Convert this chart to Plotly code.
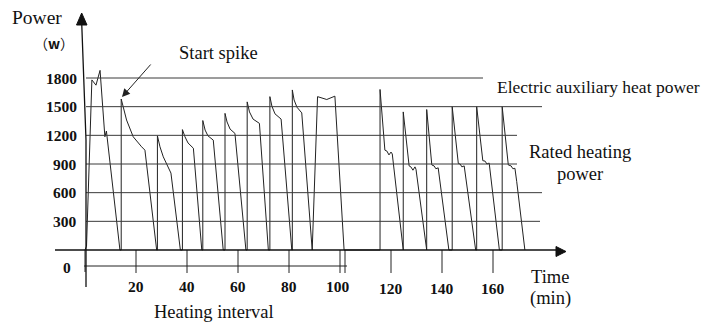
import plotly.graph_objects as go

# ---------------- data ----------------
time_min = [0, 0.6, 2.7, 4.3, 5.9, 7.8, 8.4, 13.7,
            14.2, 14.2, 16.3, 18.9, 22.2, 23.5, 28.1,
            28.4, 28.4, 29.4, 30.7, 32.7, 33.7, 37.4,
            38.2, 38.2, 39.2, 40.4, 42.5, 45.8,
            46.2, 46.2, 47.1, 48.2, 50.3, 54.2,
            54.9, 54.9, 55.7, 56.9, 58.8, 63.1,
            63.6, 63.6, 64.5, 65.9, 68.4, 71.9,
            72.5, 72.5, 73.3, 74.5, 76.9, 81.1,
            81.3, 81.3, 82.0, 83.1, 85.0, 89.1,
            91.2, 94.8, 98.0, 101.6,
            115.7, 115.7, 117.6, 118.4, 119.2, 120.0, 120.5, 124.8,
            124.8, 127.1, 127.8, 128.6, 129.4, 129.8, 134.0,
            134.0, 136.0, 136.9, 137.6, 138.5, 142.7,
            144.0, 144.0, 146.4, 147.1, 147.8, 148.7, 153.2,
            153.6, 153.6, 156.0, 156.9, 157.6, 158.5, 162.5,
            163.6, 163.6, 166.0, 167.1, 167.8, 168.6, 169.3, 172.5]
power_w = [0, 40, 1780, 1725, 1880, 1185, 1245, 0,
           0, 1580, 1360, 1185, 1080, 1045, 0,
           0, 1195, 1080, 975, 855, 805, 0,
           0, 1260, 1185, 1120, 1065, 0,
           0, 1355, 1255, 1195, 1150, 0,
           0, 1430, 1340, 1265, 1220, 0,
           0, 1550, 1445, 1370, 1325, 0,
           0, 1605, 1505, 1425, 1370, 0,
           0, 1675, 1570, 1495, 1435, 0,
           1605, 1575, 1610, 0,
           0, 1680, 1045, 1035, 995, 1025, 1005, 0,
           1445, 880, 870, 835, 870, 845, 0,
           1470, 890, 880, 850, 860, 0,
           0, 1500, 905, 900, 870, 880, 0,
           0, 1500, 935, 930, 900, 910, 0,
           0, 1500, 890, 880, 850, 855, 715, 0]

y_ticks = [300, 600, 900, 1200, 1500, 1800]
x_ticks = [20, 40, 60, 80, 100, 120, 140, 160]

# ------------- pixel helpers (layout only) -------------
W, H = 704, 325
def X(px):
    return (px - 85) / 2.55
def Y(py):
    return (250 - py) * 1800 / 172

SERIF = "Liberation Serif, Times New Roman, serif"
fig = go.Figure()
fig.add_trace(go.Scatter(x=time_min, y=power_w, mode="lines",
                         line=dict(color="#222222", width=1), hoverinfo="skip"))

shapes = []
grid_end = {1800: 483, 1500: 542, 1200: 517, 900: 517, 600: 542, 300: 540}
for v in y_ticks:
    shapes.append(dict(type="line", x0=X(86), x1=X(grid_end[v]), y0=v, y1=v,
                       line=dict(color="#3a3a3a", width=1)))
# lower "heating interval" line
shapes.append(dict(type="line", x0=X(84), x1=X(347), y0=Y(266), y1=Y(266),
                   line=dict(color="#222", width=1)))
# ticks
for t in x_ticks:
    shapes.append(dict(type="line", x0=t, x1=t, y0=0, y1=Y(273),
                       line=dict(color="#222", width=1)))
shapes.append(dict(type="line", x0=X(345), x1=X(345), y0=0, y1=Y(273),
                   line=dict(color="#222", width=1)))
shapes.append(dict(type="line", x0=X(85), x1=X(85), y0=0, y1=Y(272),
                   line=dict(color="#222", width=1)))
# y axis
shapes.append(dict(type="path",
                   path=f"M {X(81.6)},{Y(20)} L {X(86)},{Y(140)} L {X(86)},{Y(287)}",
                   line=dict(color="#111", width=1.3)))
shapes.append(dict(type="path",
                   path=f"M {X(81.7)},{Y(13)} L {X(76.5)},{Y(25)} L {X(87)},{Y(25)} Z",
                   fillcolor="#111", line=dict(color="#111", width=1)))
# x axis
shapes.append(dict(type="line", x0=X(55), x1=X(558), y0=0, y1=0,
                   line=dict(color="#111", width=1.3)))
shapes.append(dict(type="path",
                   path=f"M {X(566)},{Y(251.5)} L {X(556)},{Y(246.5)} L {X(556)},{Y(256.5)} Z",
                   fillcolor="#111", line=dict(color="#111", width=1)))

ann = []
def txt(s, px, py, size=18.5, bold=False, xa="center", ya="middle", family=SERIF):
    ann.append(dict(text=f"<b>{s}</b>" if bold else s, x=X(px), y=Y(py),
                    xref="x", yref="y", showarrow=False, xanchor=xa, yanchor=ya,
                    font=dict(family=family, size=size, color="#111")))

for v in y_ticks:
    ann.append(dict(text=f"<b>{v}</b>", x=X(78.5), y=v, xref="x", yref="y",
                    showarrow=False, xanchor="right", yanchor="middle",
                    font=dict(family=SERIF, size=15.5, color="#111")))
txt("0", 67, 267, size=15.5, bold=True)
for t in x_ticks:
    ann.append(dict(text=f"<b>{t}</b>", x=t - (0.8 if t == 100 else 0),
                    y=Y(286 if t <= 100 else 288), xref="x", yref="y",
                    showarrow=False, xanchor="center", yanchor="middle",
                    font=dict(family=SERIF, size=15.5, color="#111")))

txt("Power", 37, 17, size=19.5)
txt("（<b>w</b>）", 54, 43, size=14, family="Noto Sans CJK SC, Liberation Serif")
txt("Start spike", 218, 53)
txt("Electric auxiliary heat power", 702, 87, size=17.5, xa="right")
txt("Rated heating", 580, 152)
txt("power", 580, 174)
txt("Time", 550, 277)
txt("(min)", 550, 298)
txt("Heating interval", 214, 312)

ann.append(dict(text="", x=X(122), y=Y(97), ax=X(152), ay=Y(63),
                xref="x", yref="y", axref="x", ayref="y", showarrow=True,
                arrowhead=2, arrowsize=1.6, arrowwidth=1, arrowcolor="#222"))

fig.update_layout(
    width=W, height=H, margin=dict(l=0, r=0, t=0, b=0),
    paper_bgcolor="white", plot_bgcolor="white", showlegend=False,
    xaxis=dict(range=[X(0), X(W)], visible=False, fixedrange=True),
    yaxis=dict(range=[Y(H), Y(0)], visible=False, fixedrange=True),
    shapes=shapes, annotations=ann,
)
fig.write_html("out.html")
